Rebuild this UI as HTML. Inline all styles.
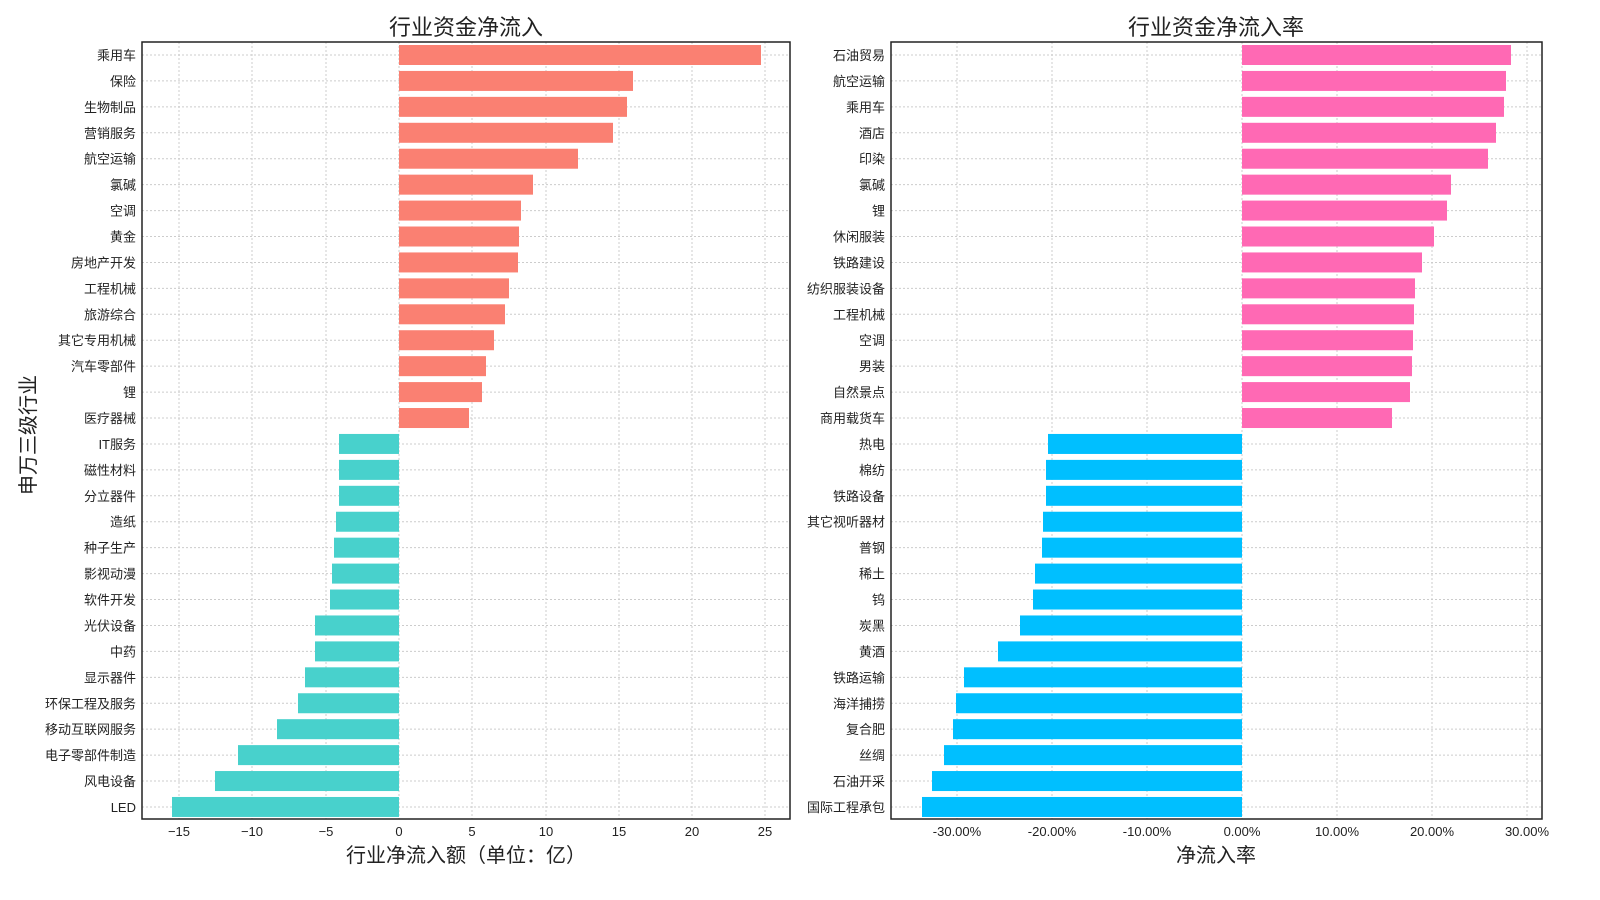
<!DOCTYPE html>
<html><head><meta charset="utf-8"><style>
html,body{margin:0;padding:0;background:#fff;overflow:hidden;width:1600px;height:900px}
svg{display:block;position:absolute;left:0;top:0}
text{font-family:"Liberation Sans","Noto Sans CJK SC",sans-serif;fill:#222}
</style></head><body>
<svg id="s" width="1600" height="900" viewBox="0 0 1600 900" preserveAspectRatio="none" xmlns="http://www.w3.org/2000/svg">
<text x="466" y="35" font-size="22" text-anchor="middle">行业资金净流入</text>
<text x="1216" y="35" font-size="22" text-anchor="middle">行业资金净流入率</text>
<text x="466" y="862" font-size="20" text-anchor="middle">行业净流入额（单位：亿）</text>
<text x="1216" y="862" font-size="20" text-anchor="middle">净流入率</text>
<text transform="translate(35,435) rotate(-90)" font-size="20" text-anchor="middle">申万三级行业</text>
<g id="g"></g>
</svg>
<script>
var NS="http://www.w3.org/2000/svg",g=document.getElementById("g");
function el(t,a,txt){var e=document.createElementNS(NS,t);for(var k in a)e.setAttribute(k,a[k]);if(txt!=null)e.textContent=txt;g.appendChild(e);return e;}
var L={x0:142,x1:790,zero:399,names:["乘用车","保险","生物制品","营销服务","航空运输","氯碱","空调","黄金","房地产开发","工程机械","旅游综合","其它专用机械","汽车零部件","锂","医疗器械","IT服务","磁性材料","分立器件","造纸","种子生产","影视动漫","软件开发","光伏设备","中药","显示器件","环保工程及服务","移动互联网服务","电子零部件制造","风电设备","LED"],
ends:[761,633,627,613,578,533,521,519,518,509,505,494,486,482,469,339,339,339,336,334,332,330,315,315,305,298,277,238,215,172],
ticks:[[179,"−15"],[252,"−10"],[326,"−5"],[399,"0"],[472,"5"],[546,"10"],[619,"15"],[692,"20"],[765,"25"]],c1:"#FA8072",c2:"#48D1CC"};
var R={x0:891,x1:1542,zero:1242,names:["石油贸易","航空运输","乘用车","酒店","印染","氯碱","锂","休闲服装","铁路建设","纺织服装设备","工程机械","空调","男装","自然景点","商用载货车","热电","棉纺","铁路设备","其它视听器材","普钢","稀土","钨","炭黑","黄酒","铁路运输","海洋捕捞","复合肥","丝绸","石油开采","国际工程承包"],
ends:[1511,1506,1504,1496,1488,1451,1447,1434,1422,1415,1414,1413,1412,1410,1392,1048,1046,1046,1043,1042,1035,1033,1020,998,964,956,953,944,932,922],
ticks:[[957,"-30.00%"],[1052,"-20.00%"],[1147,"-10.00%"],[1242,"0.00%"],[1337,"10.00%"],[1432,"20.00%"],[1527,"30.00%"]],c1:"#FF69B4",c2:"#00BFFF"};
[L,R].forEach(function(P){
 var y0=42,y1=819;
 P.ticks.forEach(function(t){el("line",{x1:t[0],x2:t[0],y1:y0,y2:y1,stroke:"#ccc","stroke-dasharray":"2,2"});
  el("text",{x:t[0],y:836,"font-size":"13","text-anchor":"middle"},t[1]);});
 for(var i=0;i<30;i++){var y=55+i*25.93;
  el("line",{x1:P.x0,x2:P.x1,y1:y,y2:y,stroke:"#ccc","stroke-dasharray":"2,2"});}
 for(var i=0;i<30;i++){var y=55+i*25.93,e=P.ends[i],a=Math.min(e,P.zero),w=Math.abs(e-P.zero);
  el("rect",{x:a,y:y-10,width:w,height:20,fill:i<15?P.c1:P.c2});
  el("text",{x:P.x0-6,y:y+5,"font-size":"13","text-anchor":"end"},P.names[i]);}
 el("rect",{x:P.x0,y:y0,width:P.x1-P.x0,height:y1-y0,fill:"none",stroke:"#222","stroke-width":"1.5"});
});
</script>
</body></html>
